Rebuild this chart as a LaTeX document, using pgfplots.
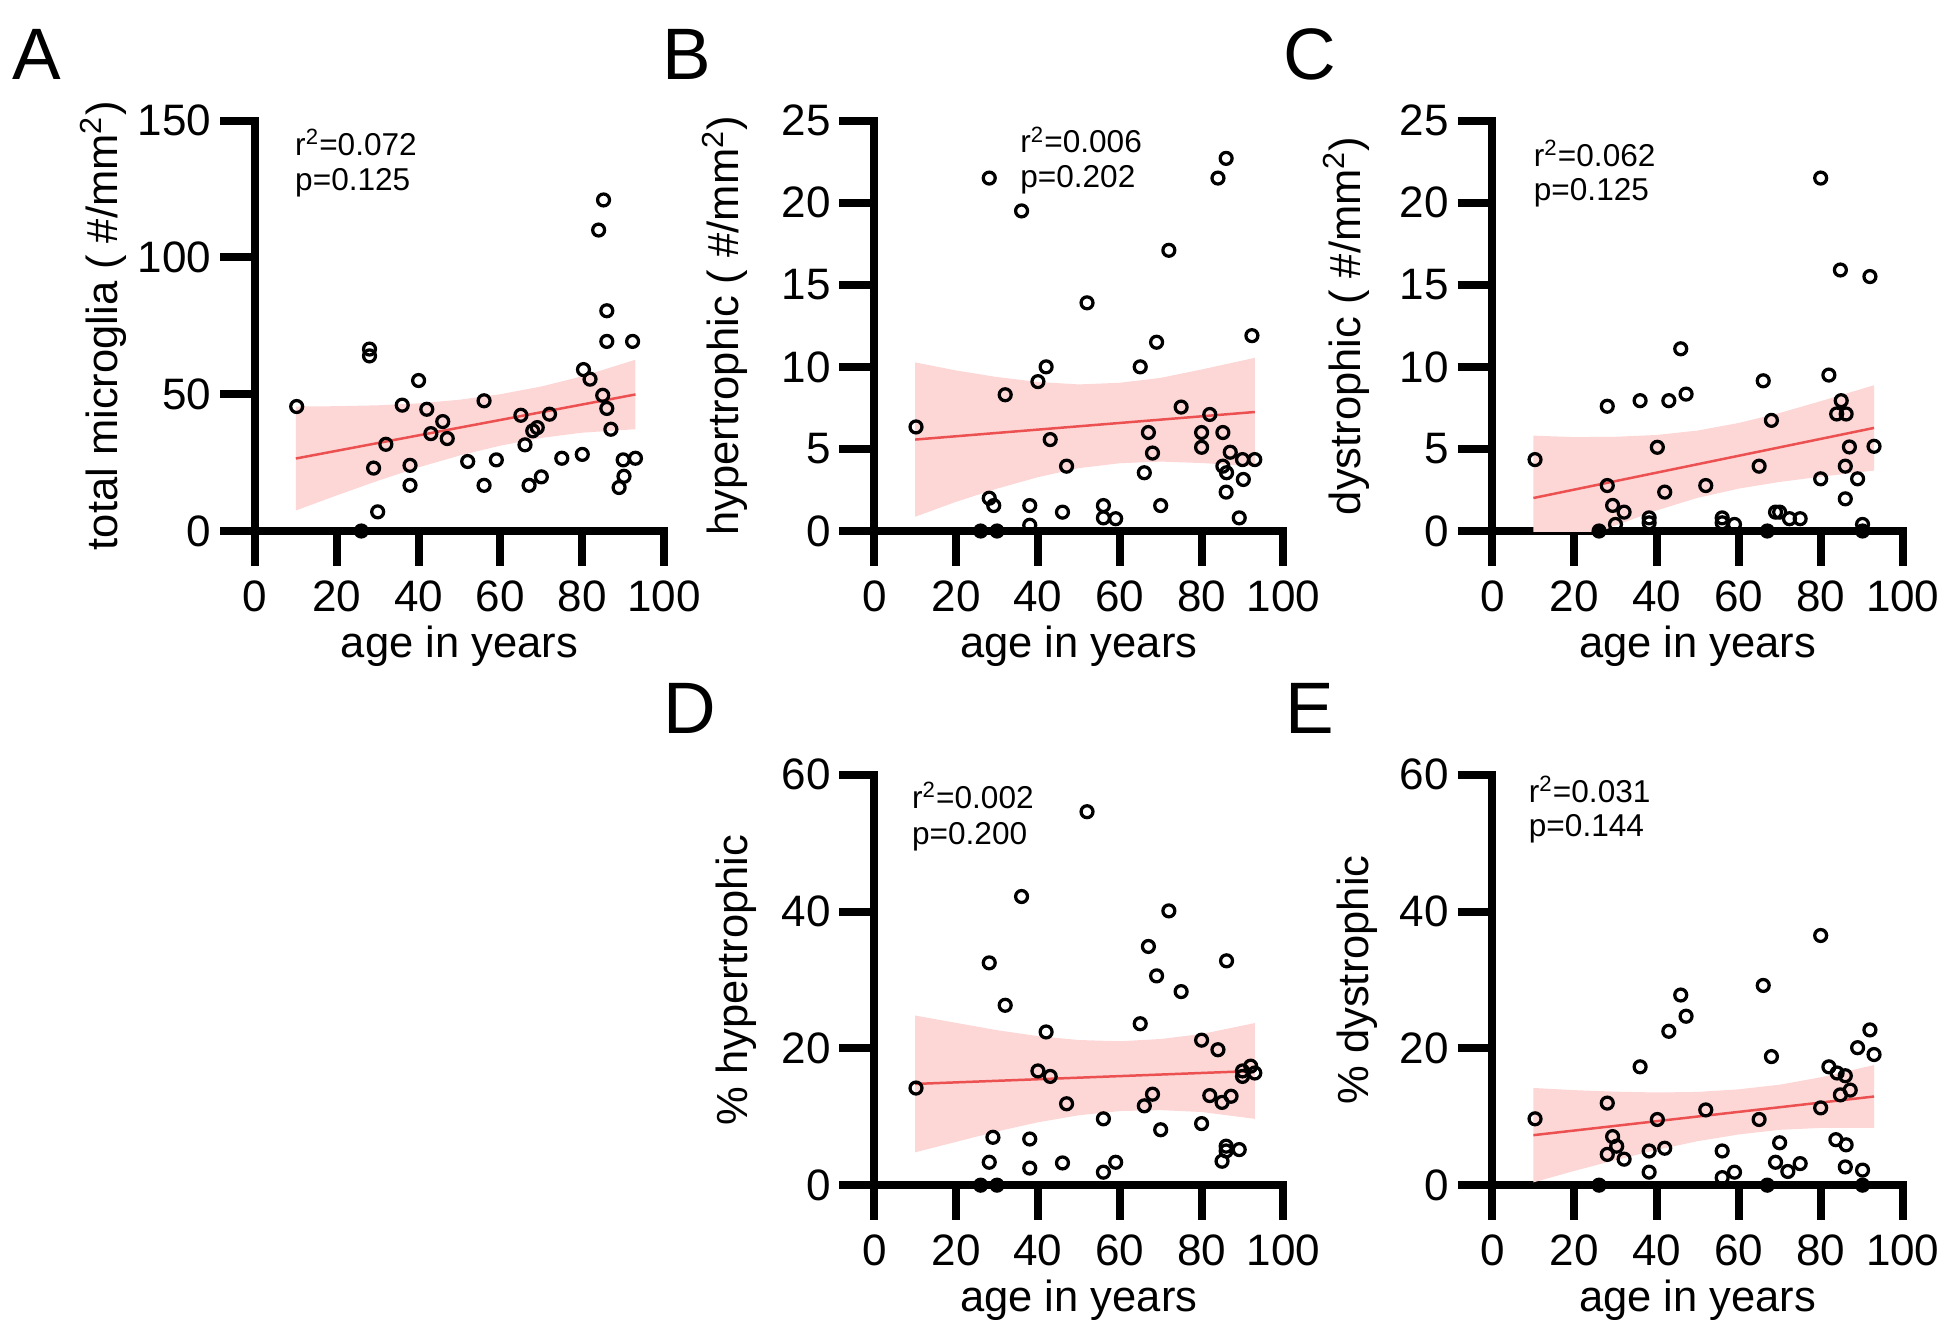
\documentclass[border=0pt]{standalone}
\usepackage{fontspec}
\setmainfont{Liberation Sans}
\usepackage{pgfplots}
\pgfplotsset{compat=1.18}
\definecolor{bandpink}{RGB}{253,214,214}
\definecolor{fitred}{RGB}{236,80,80}
\pgfplotsset{
 prism/.style={
  scale only axis, width=164.5pt, height=165pt,
  axis lines=left, axis line style={-, line width=3.2pt, line cap=rect, black},
  xmin=0, xmax=100, ymin=0, xtick={0,20,...,100},
  tick align=outside, major tick length=14pt,
  tick style={black, line width=3.2pt},
  tick label style={font=\fontsize{17.7}{21}\selectfont},
  xticklabel style={yshift=-2.5pt},
  /pgf/number format/assume math mode=true,
  xlabel={age in years},
  every axis x label/.style={at={(axis description cs:0.5,-0.309)}, anchor=base, font=\fontsize{17.5}{21}\selectfont},
  every axis y label/.style={rotate=90, anchor=center, font=\fontsize{17.5}{21}\selectfont},
  clip=true,
 },
 pts/.style={only marks, mark=o, mark size=2.4pt, mark options={black, line width=1.3pt}},
 zpts/.style={only marks, mark=*, mark size=2.4pt, mark options={black, fill=black, line width=1.3pt}},
}
\begin{document}
\begin{tikzpicture}
\useasboundingbox (0,0) rectangle (784pt,537.5pt);
% ---------- A ----------
\begin{axis}[prism, at={(102.5pt,324pt)}, anchor=south west, ymax=150, ytick={0,50,100,150},
  ylabel={total microglia ( \#/mm\textsuperscript{2})}, ylabel style={at={(axis description cs:-0.37,0.5)}}]
\addplot[fill=bandpink, draw=none] coordinates {(10,45.5) (20,45.62) (30,45.94) (40,46.66) (50,47.98) (60,50.01) (70,52.83) (80,56.55) (93,62.61)
 (93,37.21) (80,35.95) (70,34.03) (60,31.21) (50,27.58) (40,23.26) (30,18.34) (20,13.02) (10,7.5)};
\addplot[fitred, line width=1pt] coordinates {(10,26.5) (93,49.91)};
\addplot[pts] coordinates {(10.2,45.5) (28,66.5) (28,64) (30,7) (29,23) (32,31.7) (36,46) (40,55) (37.9,24) (37.9,16.7)
 (42,44.5) (43,35.6) (45.9,40) (47,33.8) (52,25.4) (56,47.6) (56,16.7) (59,26) (65,42.3) (66,31.5) (67,16.7) (67.9,36.6)
 (69,37.8) (70,19.8) (72,42.7) (75,26.6) (80,28) (80.3,59) (81.9,55.5) (84,110) (85.2,121) (85,49.6) (86,44.8) (86,80.5)
 (86,69.3) (87,37.2) (92.3,69.3) (90,26) (93,26.6) (90.2,20) (89,15.9)};
\addplot[zpts] coordinates {(26,0)};
\end{axis}
% ---------- B ----------
\begin{axis}[prism, at={(351.5pt,324pt)}, anchor=south west, ymax=25, ytick={0,5,...,25},
  ylabel={hypertrophic ( \#/mm\textsuperscript{2})}, ylabel style={at={(axis description cs:-0.365,0.5)}}]
\addplot[fill=bandpink, draw=none] coordinates {(10,10.27) (20,9.78) (30,9.38) (40,9.08) (50,8.93) (60,9.03) (70,9.33) (80,9.84) (93,10.55)
 (93,3.95) (80,4.14) (70,4.23) (60,4.13) (50,3.83) (40,3.28) (30,2.58) (20,1.78) (10,0.87)};
\addplot[fitred, line width=1pt] coordinates {(10,5.57) (93,7.25)};
\addplot[pts] coordinates {(10.2,6.34) (28.1,21.5) (36,19.5) (28.1,2.0) (29.2,1.55) (32,8.3) (38,1.55) (38,0.35) (40,9.1)
 (42,10) (43,5.57) (46,1.15) (47,3.95) (52,13.9) (56,1.55) (56,0.8) (59,0.75) (65,10) (66,3.55) (67,6) (68,4.75) (69,11.5)
 (70,1.55) (72,17.1) (75,7.55) (80,6) (80,5.1) (82,7.1) (84,21.5) (86,22.7) (85.2,6) (87,4.8) (85.2,3.95) (86.1,3.55)
 (86,2.37) (90,4.35) (90.2,3.14) (93,4.35) (89.2,0.8) (92.3,11.9)};
\addplot[zpts] coordinates {(26,0) (30,0)};
\end{axis}
% ---------- C ----------
\begin{axis}[prism, at={(600pt,324pt)}, anchor=south west, width=165pt, ymax=25, ytick={0,5,...,25},
  ylabel={dystrophic ( \#/mm\textsuperscript{2})}, ylabel style={at={(axis description cs:-0.356,0.5)}}]
\addplot[fill=bandpink, draw=none] coordinates {(10,5.81) (20,5.72) (30,5.74) (40,5.85) (50,6.12) (60,6.58) (70,7.19) (80,7.91) (93,8.88)
 (93,3.68) (80,3.31) (70,2.99) (60,2.58) (50,2.02) (40,1.25) (30,0.34) (20,-0.68) (10,-1.79)};
\addplot[fitred, line width=1pt] coordinates {(10,2.01) (93,6.28)};
\addplot[pts] coordinates {(10.4,4.35) (28,7.6) (28,2.77) (29.3,1.56) (32.1,1.15) (30,0.4) (36,7.94) (38.2,0.8) (38.2,0.5)
 (40.2,5.1) (42,2.37) (43,7.94) (45.9,11.1) (47.2,8.34) (52,2.77) (56,0.8) (56,0.5) (59,0.4) (65,3.95) (66,9.15)
 (68,6.74) (69,1.15) (70,1.15) (72.4,0.75) (75,0.75) (80,21.5) (80,3.18) (82,9.5) (84.8,15.9) (85,7.94) (83.9,7.13)
 (86.2,7.13) (87,5.12) (86,3.95) (86,1.96) (89,3.18) (90.2,0.4) (92,15.5) (93,5.16)};
\addplot[zpts] coordinates {(26,0) (67,0) (90.2,0)};
\end{axis}
% ---------- D ----------
\begin{axis}[prism, at={(351.5pt,61pt)}, anchor=south west, ymax=60, ytick={0,20,40,60},
  ylabel={\% hypertrophic}, ylabel style={at={(axis description cs:-0.337,0.5)}}]
\addplot[fill=bandpink, draw=none] coordinates {(10,24.8) (20,23.73) (30,22.66) (40,21.79) (50,21.22) (60,21.04) (70,21.37) (80,22.1) (93,23.7)
 (93,9.7) (80,10.7) (70,10.97) (60,10.84) (50,10.22) (40,9.19) (30,7.86) (20,6.33) (10,4.8)};
\addplot[fitred, line width=1pt] coordinates {(10,14.8) (93,16.7)};
\addplot[pts] coordinates {(10.2,14.2) (28.1,32.5) (32,26.3) (29,7) (28.1,3.35) (36,42.2) (38,6.75) (38,2.5) (40,16.7)
 (42,22.4) (43,15.9) (46,3.25) (47,11.9) (52,54.6) (56,9.7) (56,1.9) (59,3.35) (65,23.6) (66,11.6) (67,34.9) (68,13.3)
 (69,30.6) (70,8.1) (72,40.1) (75,28.3) (80,21.2) (80,9) (82,13.1) (84,19.8) (85,12.1) (87.2,13) (86.1,32.8) (86,5.7)
 (86,5) (85,3.5) (89.2,5.2) (90,16.7) (90,15.9) (92,17.4) (93,16.4)};
\addplot[zpts] coordinates {(26,0) (30,0)};
\end{axis}
% ---------- E ----------
\begin{axis}[prism, at={(600pt,61pt)}, anchor=south west, width=165pt, ymax=60, ytick={0,20,40,60},
  ylabel={\% dystrophic}, ylabel style={at={(axis description cs:-0.33,0.5)}}]
\addplot[fill=bandpink, draw=none] coordinates {(10,14.21) (20,13.89) (30,13.67) (40,13.55) (50,13.63) (60,14.01) (70,14.69) (80,15.77) (93,17.56)
 (93,8.36) (80,8.37) (70,8.09) (60,7.41) (50,6.43) (40,5.15) (30,3.67) (20,2.09) (10,0.41)};
\addplot[fitred, line width=1pt] coordinates {(10,7.31) (93,12.96)};
\addplot[pts] coordinates {(10.4,9.7) (28,12) (29.3,7.1) (30.3,5.7) (28,4.5) (32.1,3.8) (36,17.3) (38.2,5) (38.2,1.9)
 (40.2,9.6) (42,5.4) (43,22.5) (45.9,27.8) (47.2,24.7) (52,11) (56,5) (56,1.1) (59,1.9) (65,9.6) (66,29.2) (68,18.8)
 (69,3.35) (70,6.2) (72,2.0) (75,3.15) (80,36.5) (80,11.3) (82,17.3) (84,16.4) (86,16) (84.8,13.2) (87.2,13.9)
 (83.7,6.65) (86.2,5.9) (86,2.67) (90.2,2.2) (89,20.1) (92,22.7) (93,19.1)};
\addplot[zpts] coordinates {(26,0) (67,0) (90.2,0)};
\end{axis}
% ---------- stats and panel letters ----------
\begin{scope}[every node/.style={anchor=base west, inner sep=0pt, font=\fontsize{12.7}{15}\selectfont}]
\node at (118.5pt,475pt) {r\textsuperscript{2}=0.072};
\node at (118.5pt,461pt) {p=0.125};
\node at (410pt,476pt) {r\textsuperscript{2}=0.006};
\node at (410pt,462pt) {p=0.202};
\node at (616.5pt,470.5pt) {r\textsuperscript{2}=0.062};
\node at (616.5pt,457pt) {p=0.125};
\node at (366.5pt,212.5pt) {r\textsuperscript{2}=0.002};
\node at (366.5pt,198pt) {p=0.200};
\node at (614.5pt,215pt) {r\textsuperscript{2}=0.031};
\node at (614.5pt,201pt) {p=0.144};
\end{scope}
\begin{scope}[every node/.style={anchor=base west, inner sep=0pt, font=\fontsize{29.3}{35}\selectfont}]
\node at (5pt,505.5pt) {A};
\node at (266pt,505.5pt) {B};
\node at (516pt,505.5pt) {C};
\node at (266.5pt,242.5pt) {D};
\node at (516.5pt,242.5pt) {E};
\end{scope}
\end{tikzpicture}
\end{document}
